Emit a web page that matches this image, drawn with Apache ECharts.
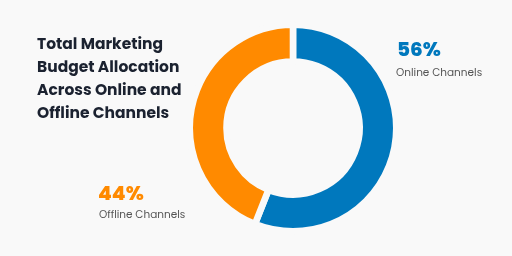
<!DOCTYPE html>
<html><head><meta charset="utf-8">
<script src="https://cdn.jsdelivr.net/npm/echarts@6/dist/echarts.min.js"></script>
<style>html,body{margin:0;padding:0;background:#f9f9f9}#c{width:512px;height:256px}</style>
</head><body><div id="c"></div>
<script>
const categories = ['Online Channels', 'Offline Channels'];
const values = [56, 44];
const colors = ['#0078bd', '#ff8a00'];
const titleLines = ['Total Marketing', 'Budget Allocation', 'Across Online and', 'Offline Channels'];

const font = 'Poppins, Inter, "Open Sans", sans-serif';
const total = values.reduce((a, b) => a + b, 0);
const pct = values.map(v => Math.round(v / total * 100) + '%');

const chart = echarts.init(document.getElementById('c'));
chart.setOption({
  backgroundColor: '#f9f9f9',
  animation: false,
  title: [
    { text: titleLines.join('\n'), left: 37, top: 34, padding: 0,
      textStyle: { fontFamily: font, fontSize: 15.5, fontWeight: 700, color: '#1b2230', lineHeight: 23 } },
    { text: pct[0], left: 397, top: 41, padding: 0,
      textStyle: { fontFamily: font, fontSize: 20, fontWeight: 800, color: colors[0] } },
    { text: categories[0], left: 396, top: 68, padding: 0,
      textStyle: { fontFamily: font, fontSize: 10.5, fontWeight: 400, color: '#555555' } },
    { text: pct[1], left: 98, top: 185, padding: 0,
      textStyle: { fontFamily: font, fontSize: 20, fontWeight: 800, color: colors[1] } },
    { text: categories[1], left: 99, top: 210, padding: 0,
      textStyle: { fontFamily: font, fontSize: 10.5, fontWeight: 400, color: '#555555' } }
  ],
  series: [{
    type: 'pie',
    center: [293, 128],
    radius: [66.5, 103.3],
    startAngle: 90,
    clockwise: true,
    label: { show: false },
    labelLine: { show: false },
    emphasis: { disabled: true },
    itemStyle: { borderColor: '#f9f9f9', borderWidth: 6.6 },
    data: categories.map((n, i) => ({ name: n, value: values[i], itemStyle: { color: colors[i] } }))
  }]
});
</script></body></html>
